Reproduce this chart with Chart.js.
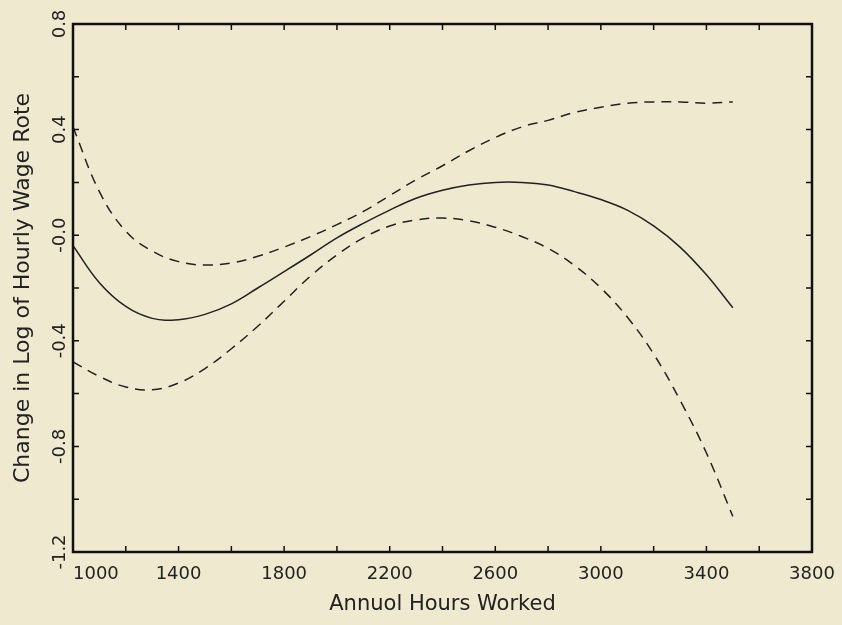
<!DOCTYPE html>
<html>
<head>
<meta charset="utf-8">
<script src="https://cdn.jsdelivr.net/npm/chart.js@4.4.0/dist/chart.umd.min.js"></script>
<style>
  html, body { margin: 0; padding: 0; background: #efeacf; }
</style>
</head>
<body>
<canvas id="myChart" width="842" height="625"></canvas>
<script>
// annual hours (x) and fitted curve with its two bands
const hours = [1000, 1100, 1200, 1300, 1400, 1500, 1600, 1700, 1800, 1900, 2000, 2100, 2200,
               2300, 2400, 2500, 2600, 2700, 2800, 2900, 3000, 3100, 3200, 3300, 3400, 3500];
const estimate = [-0.04, -0.18, -0.27, -0.315, -0.32, -0.3, -0.26, -0.2, -0.138, -0.075, -0.01, 0.045, 0.095,
                  0.14, 0.17, 0.19, 0.2, 0.2, 0.19, 0.165, 0.135, 0.095, 0.035, -0.045, -0.15, -0.275];
const upperBand = [0.41, 0.165, 0.015, -0.06, -0.1, -0.113, -0.105, -0.08, -0.045, -0.005, 0.04, 0.09, 0.15,
                   0.21, 0.263, 0.32, 0.37, 0.41, 0.435, 0.465, 0.485, 0.5, 0.505, 0.505, 0.5, 0.505];
const lowerBand = [-0.48, -0.535, -0.575, -0.585, -0.56, -0.505, -0.43, -0.345, -0.25, -0.155, -0.075, -0.01, 0.035,
                   0.058, 0.065, 0.055, 0.03, -0.005, -0.05, -0.115, -0.2, -0.31, -0.45, -0.625, -0.825, -1.065];

const xTickLabels = [1000, 1400, 1800, 2200, 2600, 3000, 3400, 3800];
const yTickValues = [0.8, 0.4, 0, -0.4, -0.8, -1.2];
const yTickText = ["0.8", "0.4", "-0.0", "-0.4", "-0.8", "-1.2"];

const ink = "#222";
const bg = "#efeacf";

function toPoints(ys) {
    return hours.map((h, i) => ({ x: h, y: ys[i] }));
}

// paper background, frame, inward ticks and rotated y labels
const framePlugin = {
    id: "frame",
    beforeDraw(chart) {
        const ctx = chart.ctx;
        ctx.save();
        ctx.fillStyle = bg;
        ctx.fillRect(0, 0, chart.width, chart.height);
        ctx.restore();
    },
    afterDraw(chart) {
        const ctx = chart.ctx;
        const a = chart.chartArea;
        const xs = chart.scales.x;
        const ys = chart.scales.y;
        ctx.save();
        ctx.strokeStyle = "#111";
        ctx.lineWidth = 2.5;
        ctx.strokeRect(a.left, a.top, a.right - a.left, a.bottom - a.top);

        ctx.lineWidth = 1.5;
        ctx.beginPath();
        for (let v = 1200; v < 3800; v += 200) {
            const px = xs.getPixelForValue(v);
            ctx.moveTo(px, a.bottom); ctx.lineTo(px, a.bottom - 6);
            ctx.moveTo(px, a.top); ctx.lineTo(px, a.top + 6);
        }
        for (let k = 1; k < 10; k++) {
            const py = ys.getPixelForValue(-1.2 + k * 0.2);
            ctx.moveTo(a.left, py); ctx.lineTo(a.left + 6, py);
            ctx.moveTo(a.right, py); ctx.lineTo(a.right - 6, py);
        }
        ctx.stroke();

        ctx.fillStyle = ink;
        ctx.font = "18px 'DejaVu Sans'";
        ctx.textAlign = "center";
        ctx.textBaseline = "middle";
        yTickValues.forEach((v, i) => {
            ctx.save();
            ctx.translate(60, ys.getPixelForValue(v));
            ctx.rotate(-Math.PI / 2);
            ctx.fillText(yTickText[i], 0, 0);
            ctx.restore();
        });
        ctx.restore();
    }
};

const canvas = document.getElementById("myChart");

new Chart(canvas, {
    type: "line",
    data: {
        datasets: [
            {
                label: "Estimate",
                data: toPoints(estimate),
                borderColor: ink,
                borderWidth: 1.5,
                pointRadius: 0,
                tension: 0.4,
                fill: false
            },
            {
                label: "Upper",
                data: toPoints(upperBand),
                borderColor: ink,
                borderWidth: 1.5,
                borderDash: [10, 7],
                pointRadius: 0,
                tension: 0.4,
                fill: false
            },
            {
                label: "Lower",
                data: toPoints(lowerBand),
                borderColor: ink,
                borderWidth: 1.5,
                borderDash: [10, 7],
                pointRadius: 0,
                tension: 0.4,
                fill: false
            }
        ]
    },
    options: {
        responsive: false,
        animation: false,
        layout: { padding: { top: 24, right: 30, left: 0, bottom: 0 } },
        plugins: {
            legend: { display: false },
            tooltip: { enabled: false }
        },
        scales: {
            x: {
                type: "linear",
                min: 1000,
                max: 3800,
                afterFit: (scale) => {
                    scale.height = 73;
                    scale.paddingRight = 0;
                    scale.paddingLeft = 0;
                },
                afterBuildTicks: (scale) => { scale.ticks = xTickLabels.map(v => ({ value: v })); },
                grid: { display: false, drawTicks: false },
                border: { display: false },
                ticks: {
                    autoSkip: false,
                    maxRotation: 0,
                    padding: 12,
                    color: ink,
                    font: { family: "'DejaVu Sans'", size: 18 },
                    callback: (v) => v === 1000 ? "\u2007\u2007\u2007\u20071000" : String(v)
                },
                title: {
                    display: true,
                    text: "Annuol Hours Worked",
                    color: ink,
                    font: { family: "'DejaVu Sans'", size: 21 },
                    padding: { top: 0, bottom: 8 }
                }
            },
            y: {
                type: "linear",
                min: -1.2,
                max: 0.8,
                afterFit: (scale) => { scale.width = 73; },
                grid: { display: false, drawTicks: false },
                border: { display: false },
                ticks: { display: false },
                title: {
                    display: true,
                    text: "Change in Log of Hourly Wage Rote",
                    color: ink,
                    font: { family: "'DejaVu Sans'", size: 22 },
                    padding: { top: 10, bottom: 0 }
                }
            }
        }
    },
    plugins: [framePlugin]
});
</script>
</body>
</html>
